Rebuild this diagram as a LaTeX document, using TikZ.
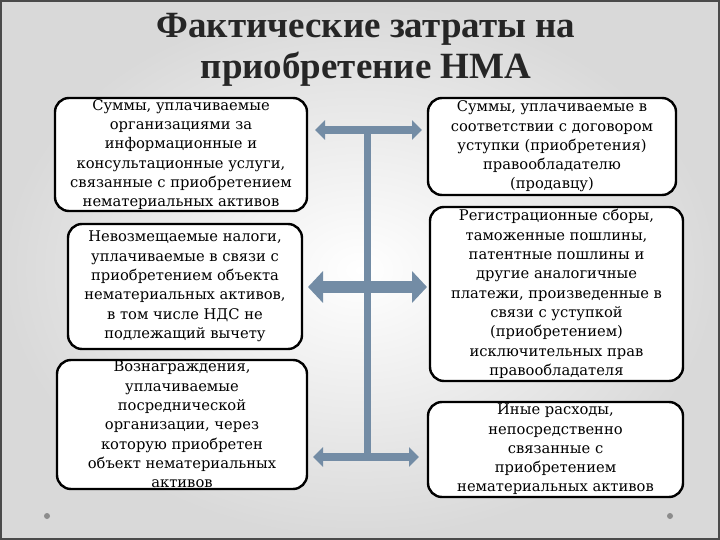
\documentclass[tikz,border=0pt]{standalone}
\usepackage{fontspec}
\setmainfont{DejaVu Serif}
\newfontfamily\headfont{Liberation Serif}
\usepackage{tikz}
\usetikzlibrary{arrows.meta,positioning,shadings}
\definecolor{steel}{HTML}{738CA5}
\definecolor{frame}{HTML}{4A4A4A}
\definecolor{ink}{HTML}{262626}

\tikzset{
  costbox/.style={draw, line width=2.4pt, rounded corners=14pt, fill=white,
    align=center, inner sep=0pt, font=\fontsize{14.7}{19.3}\selectfont},
  link/.style={steel, line width=8pt, {Triangle[width=19pt,length=10pt]}-{Triangle[width=19pt,length=10pt]}},
}

\begin{document}
\begin{tikzpicture}[x=1pt, y=-1pt]
  \useasboundingbox (0,0) rectangle (720,540);
  \shade[inner color=white, outer color=black!15] (0,0) rectangle (720,540);
  \draw[frame, line width=2pt] (1,1) rectangle (719,539);
  \fill[black!45] (47,516) circle (3);
  \fill[black!45] (670,516) circle (3);

  % title
  \node[font=\headfont\bfseries\fontsize{37}{41}\selectfont, text=ink, align=center] (title) at (366,50)
    {Фактические затраты на\\приобретение НМА};

  % left column
  \node[costbox, minimum width=252, minimum height=113] (info) at (181,154.5)
    {Суммы, уплачиваемые\\организациями за\\информационные и\\консультационные услуги,\\связанные с приобретением\\нематериальных активов};
  \node[costbox, minimum width=234, minimum height=125] (tax) at (185,286.5)
    {Невозмещаемые налоги,\\уплачиваемые в связи с\\приобретением объекта\\нематериальных активов,\\в том числе НДС не\\подлежащий вычету};
  \node[costbox, minimum width=250, minimum height=129] (fee) at (182,424.5)
    {Вознаграждения,\\уплачиваемые\\посреднической\\организации, через\\которую приобретен\\объект нематериальных\\активов};

  % right column
  \node[costbox, minimum width=248, minimum height=97] (deal) at (552,146.5)
    {Суммы, уплачиваемые в\\соответствии с договором\\уступки (приобретения)\\правообладателю\\(продавцу)};
  \node[costbox, minimum width=253, minimum height=174] (duty) at (556.5,294)
    {Регистрационные сборы,\\таможенные пошлины,\\патентные пошлины и\\другие аналогичные\\платежи, произведенные в\\связи с уступкой\\(приобретением)\\исключительных прав\\правообладателя};
  \node[costbox, minimum width=255, minimum height=95] (other) at (555.5,449.5)
    {Иные расходы,\\непосредственно\\связанные с\\приобретением\\нематериальных активов};

  % connectors
  \coordinate (hubA) at (367,130);
  \coordinate (hubC) at (367,457);
  \coordinate (endAl) at (315,130);
  \coordinate (endAr) at (422,130);
  \coordinate (endBl) at (308,287);
  \coordinate (endBr) at (427,287);
  \coordinate (endCl) at (313,457);
  \coordinate (endCr) at (419,457);
  \draw[steel, line width=7pt] (hubA) -- (hubC);
  \draw[link] (endAl) -- (endAr);
  \draw[link, line width=12pt, {Triangle[width=31pt,length=15pt]}-{Triangle[width=31pt,length=15pt]}] (endBl) -- (endBr);
  \draw[link] (endCl) -- (endCr);
\end{tikzpicture}
\end{document}
